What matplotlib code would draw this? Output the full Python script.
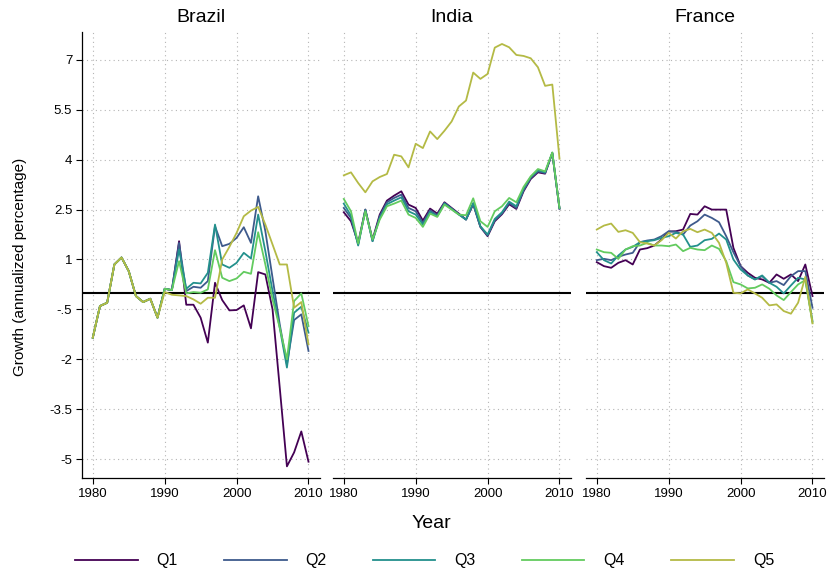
import matplotlib
matplotlib.use("Agg")
import matplotlib.pyplot as plt
import numpy as np

plt.rcParams['font.family'] = ['Liberation Sans', 'DejaVu Sans']

years = np.arange(1980, 2011)
countries = ["Brazil", "India", "France"]
quintiles = ["Q1", "Q2", "Q3", "Q4", "Q5"]
colors = ["#440154", "#3e5a8c", "#23908c", "#63cb5f", "#b4ba45"]

yticks = [-5, -3.5, -2, -0.5, 1, 2.5, 4, 5.5, 7]
ytick_labels = ["-5", "-3.5", "-2", "-.5", "1", "2.5", "4", "5.5", "7"]
xticks = [1980, 1990, 2000, 2010]

# Brazil (1980-1989 identical for all quintiles)
br_start = [-1.35, -0.4, -0.3, 0.85, 1.06, 0.65, -0.1, -0.28, -0.18, -0.75]
brazil_q1 = br_start + [0.12, 0.08, 1.55, -0.36, -0.36, -0.75, -1.5, 0.3, -0.22, -0.53,
                        -0.52, -0.38, -1.07, 0.62, 0.55, -0.5, -2.85, -5.22, -4.8, -4.17, -5.08]
brazil_q2 = br_start + [0.12, 0.08, 1.5, 0.05, 0.18, 0.15, 0.35, 2.0, 1.4, 1.47,
                        1.65, 1.97, 1.5, 2.9, 1.85, 0.45, -0.95, -2.15, -0.82, -0.65, -1.75]
brazil_q3 = br_start + [0.12, 0.08, 1.3, 0.12, 0.3, 0.28, 0.6, 2.05, 0.85, 0.75,
                        0.9, 1.2, 1.03, 2.35, 1.25, 0.05, -1.05, -2.25, -0.6, -0.42, -1.2]
brazil_q4 = br_start + [0.12, 0.08, 0.95, -0.02, 0.02, 0.0, 0.1, 1.28, 0.45, 0.35,
                        0.43, 0.63, 0.57, 1.82, 0.85, -0.2, -1.05, -2.0, -0.25, -0.02, -1.0]
brazil_q5 = br_start + [0.02, -0.06, -0.08, -0.1, -0.2, -0.33, -0.15, -0.15, 1.0, 1.38,
                        1.8, 2.3, 2.47, 2.58, 2.05, 1.45, 0.85, 0.85, -0.45, -0.28, -1.55]

india_q1 = [2.42, 2.15, 1.5, 2.5, 1.6, 2.35, 2.77, 2.92, 3.05, 2.65, 2.55, 2.17, 2.53, 2.38, 2.72, 2.55,
            2.38, 2.2, 2.66, 1.98, 1.7, 2.15, 2.36, 2.66, 2.52, 3.05, 3.42, 3.62, 3.58, 4.2, 2.53]
india_q2 = [2.55, 2.25, 1.45, 2.5, 1.55, 2.3, 2.72, 2.85, 2.95, 2.55, 2.45, 2.1, 2.48, 2.33, 2.7, 2.53,
            2.36, 2.2, 2.68, 1.98, 1.72, 2.18, 2.38, 2.7, 2.55, 3.08, 3.45, 3.65, 3.6, 4.2, 2.53]
india_q3 = [2.68, 2.32, 1.42, 2.48, 1.55, 2.25, 2.66, 2.77, 2.87, 2.45, 2.35, 2.05, 2.43, 2.3, 2.68, 2.52,
            2.35, 2.2, 2.7, 2.0, 1.75, 2.22, 2.42, 2.74, 2.6, 3.12, 3.48, 3.68, 3.62, 4.21, 2.54]
india_q4 = [2.82, 2.45, 1.48, 2.45, 1.6, 2.2, 2.6, 2.68, 2.77, 2.35, 2.25, 1.98, 2.38, 2.28, 2.65, 2.5,
            2.35, 2.33, 2.84, 2.15, 1.98, 2.45, 2.6, 2.85, 2.72, 3.18, 3.5, 3.72, 3.65, 4.22, 2.55]
india_q5 = [3.53, 3.62, 3.3, 3.02, 3.35, 3.48, 3.57, 4.15, 4.1, 3.77, 4.48, 4.35, 4.85, 4.62, 4.87, 5.15,
            5.6, 5.78, 6.62, 6.43, 6.58, 7.37, 7.48, 7.38, 7.15, 7.12, 7.05, 6.78, 6.22, 6.26, 4.03]

france_q1 = [0.92, 0.8, 0.75, 0.9, 0.98, 0.85, 1.3, 1.34, 1.42, 1.6, 1.84, 1.85, 1.9, 2.37, 2.35, 2.6,
             2.5, 2.5, 2.5, 1.35, 0.8, 0.6, 0.45, 0.4, 0.3, 0.55, 0.42, 0.55, 0.35, 0.85, -0.1]
france_q2 = [0.98, 1.02, 0.98, 1.08, 1.15, 1.2, 1.52, 1.57, 1.6, 1.7, 1.85, 1.83, 1.75, 2.02, 2.15, 2.35,
             2.25, 2.12, 1.7, 1.22, 0.8, 0.52, 0.4, 0.5, 0.3, 0.35, 0.23, 0.5, 0.65, 0.65, -0.45]
france_q3 = [1.22, 0.98, 0.88, 1.12, 1.3, 1.38, 1.52, 1.55, 1.58, 1.65, 1.7, 1.8, 1.75, 1.38, 1.42, 1.58,
             1.62, 1.78, 1.6, 1.0, 0.7, 0.52, 0.4, 0.52, 0.3, 0.18, -0.02, 0.22, 0.45, 0.4, -0.85]
france_q4 = [1.3, 1.22, 1.2, 1.02, 1.3, 1.4, 1.42, 1.5, 1.42, 1.42, 1.4, 1.45, 1.25, 1.35, 1.3, 1.28,
             1.42, 1.32, 0.95, 0.32, 0.25, 0.13, 0.15, 0.25, 0.12, -0.08, -0.22, 0.02, 0.25, 0.38, -0.9]
france_q5 = [1.9, 2.02, 2.08, 1.83, 1.88, 1.8, 1.52, 1.48, 1.42, 1.58, 1.8, 1.63, 1.85, 1.92, 1.82, 1.9,
             1.8, 1.5, 0.9, 0.0, -0.02, 0.1, -0.02, -0.15, -0.38, -0.35, -0.55, -0.63, -0.3, 0.48, -0.92]

series = {
    "Brazil": [brazil_q1, brazil_q2, brazil_q3, brazil_q4, brazil_q5],
    "India": [india_q1, india_q2, india_q3, india_q4, india_q5],
    "France": [france_q1, france_q2, france_q3, france_q4, france_q5],
}

fig = plt.figure(figsize=(8.31, 5.77), dpi=100)
lefts = [82 / 831, 333 / 831, 586 / 831]
width = 238 / 831
bottom = 99 / 577
height = 446 / 577

handles = []
for i, country in enumerate(countries):
    ax = fig.add_axes([lefts[i], bottom, width, height])
    ax.set_xlim(1978.5, 2011.6)
    ax.set_ylim(-5.57, 7.84)
    ax.set_xticks(xticks)
    ax.set_yticks(yticks)
    ax.grid(True, linestyle=(0, (1, 3)), color="#b5b5b5", lw=0.8)
    ax.axhline(0, color="black", lw=1.5, zorder=1)
    for q, vals, c in zip(quintiles, series[country], colors):
        ln, = ax.plot(years, vals, color=c, lw=1.3, label=q, zorder=3)
        if i == 0:
            handles.append(ln)
    for s in ["top", "right"]:
        ax.spines[s].set_visible(False)
    ax.spines["bottom"].set_linewidth(0.9)
    ax.tick_params(axis="x", labelsize=9.5, length=4, width=0.8, pad=3)
    if i == 0:
        ax.spines["left"].set_linewidth(0.9)
        ax.set_yticklabels(ytick_labels)
        ax.tick_params(axis="y", labelsize=9.5, length=4, width=0.8, pad=3)
    else:
        ax.spines["left"].set_visible(False)
        ax.tick_params(axis="y", left=False, labelleft=False)
    ax.set_title(country, fontsize=14, pad=7)

fig.text(0.024, 0.537, "Growth (annualized percentage)", rotation=90,
         ha="center", va="center", fontsize=11)
fig.text(0.519, 0.092, "Year", ha="center", va="center", fontsize=14)
fig.legend(handles, quintiles, loc="center", bbox_to_anchor=(0.511, 0.028), ncol=5,
           frameon=False, handlelength=3.9, handletextpad=1.2, columnspacing=2.9,
           fontsize=11.5)

fig.savefig("out.png", dpi=100)
